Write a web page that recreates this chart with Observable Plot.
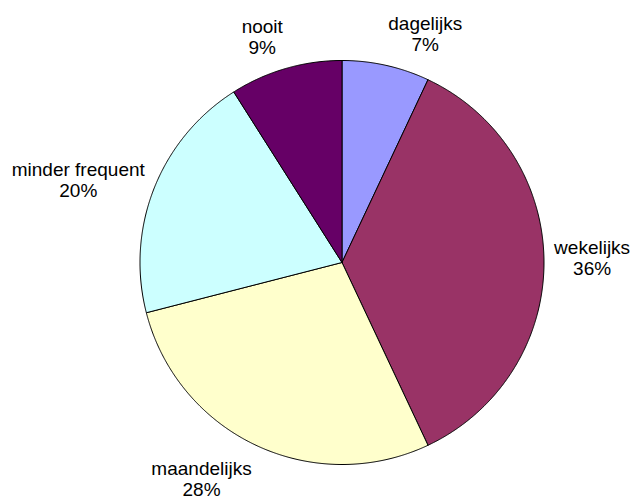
<!DOCTYPE html>
<html>
<head>
<meta charset="utf-8">
<script src="https://cdn.jsdelivr.net/npm/d3@7"></script>
<script src="https://cdn.jsdelivr.net/npm/@observablehq/plot@0.6"></script>
<style>
  html, body { margin: 0; padding: 0; background: #fff; }
  #chart svg { display: block; }
</style>
</head>
<body>
<div id="chart"></div>
<script>
const categories = ["dagelijks", "wekelijks", "maandelijks", "minder frequent", "nooit"];
const values = [7, 36, 28, 20, 9];
const colors = ["#9999FF", "#993366", "#FFFFCC", "#CCFFFF", "#660066"];

const FONT_SIZE = 19;
const FONT_FAMILY = "'Liberation Sans', Arial, sans-serif";

const arcs = d3.pie().sort(null).value(d => d)(values);

// polygon outline of each slice (unit circle, angle clockwise from top)
const slicePts = [];
arcs.forEach((a, i) => {
  const cat = categories[i];
  slicePts.push({cat, x: 0, y: 0});
  const n = Math.max(2, Math.ceil((a.endAngle - a.startAngle) / 0.005));
  for (let k = 0; k <= n; k++) {
    const t = a.startAngle + (a.endAngle - a.startAngle) * k / n;
    slicePts.push({cat, x: Math.sin(t), y: Math.cos(t)});
  }
  slicePts.push({cat, x: 0, y: 0});
});

// measure text widths so that multi-line labels are centred within their block
const ctx = document.createElement("canvas").getContext("2d");
ctx.font = `${FONT_SIZE}px ${FONT_FAMILY}`;
const measure = s => ctx.measureText(s).width;

// labels just outside the pie at each slice's mid angle
const labelR = 1.05;
const labels = arcs.map((a, i) => {
  const m = (a.startAngle + a.endAngle) / 2;
  const s = Math.sin(m), c = Math.cos(m);
  const lines = [categories[i], values[i] + "%"];
  const w = Math.max(...lines.map(measure));
  const side = s > 0.1 ? 1 : s < -0.1 ? -1 : 0;
  const la = c > 0.5 ? "bottom" : c < -0.5 ? "top" : "middle";
  return {
    text: lines.join("\n"),
    x: labelR * s,
    y: labelR * c,
    dx: side * w / 2,
    la
  };
});

const dyFor = {top: 6, bottom: -5, middle: -5};
const textMarks = [];
for (const la of ["top", "bottom", "middle"]) {
  for (const d of labels.filter(l => l.la === la)) {
    textMarks.push(Plot.text([d], {
      x: "x", y: "y", text: "text",
      textAnchor: "middle", lineAnchor: la,
      dx: d.dx, dy: dyFor[la],
      lineHeight: 1.1,
      fontSize: FONT_SIZE,
      fill: "#000"
    }));
  }
}

const chart = Plot.plot({
  width: 633,
  height: 499,
  margin: 0,
  style: {fontFamily: FONT_FAMILY, background: "#fff"},
  x: {domain: [-1, 1], range: [139.5, 543.5], axis: null},
  y: {domain: [-1, 1], range: [464, 60], axis: null},
  color: {domain: categories, range: colors},
  marks: [
    Plot.line(slicePts, {
      x: "x", y: "y", z: "cat", fill: "cat",
      stroke: "#000", strokeWidth: 1, strokeLinejoin: "round", curve: "linear"
    }),
    ...textMarks
  ]
});
document.getElementById("chart").appendChild(chart);
</script>
</body>
</html>
